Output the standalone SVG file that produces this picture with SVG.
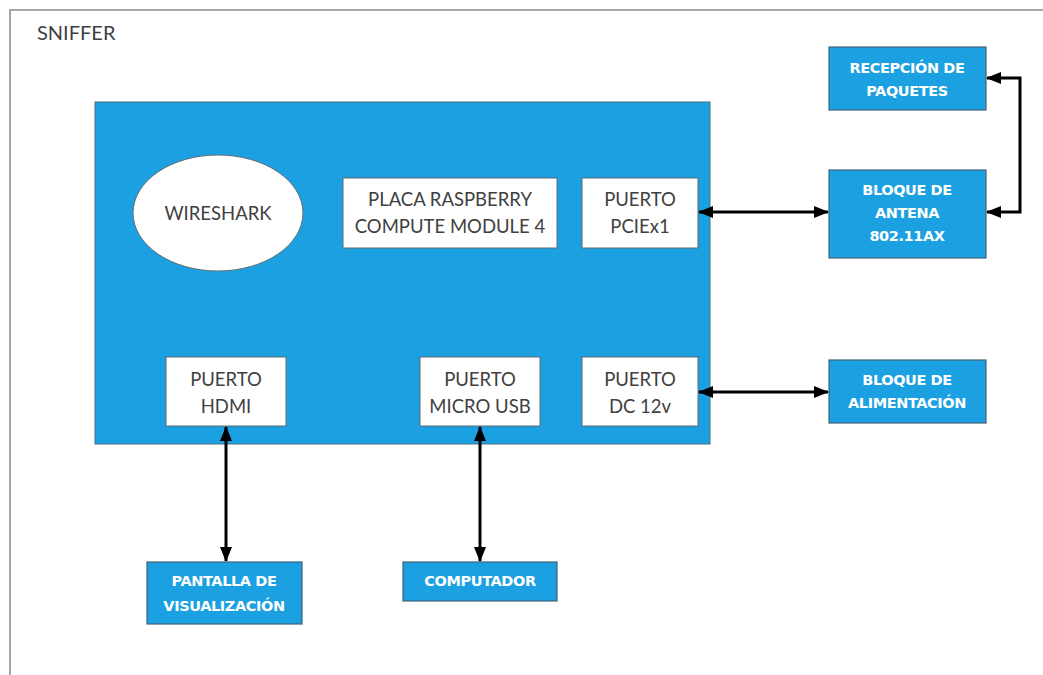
<svg xmlns="http://www.w3.org/2000/svg" width="1043" height="675" viewBox="0 0 1043 675">
  <style>
    .frame { fill: none; stroke: #a6a6a6; stroke-width: 2; }
    .board { fill: #1ba1e2; stroke: #4a6f86; stroke-width: 1; }
    .wbox { fill: #ffffff; stroke: #5f6b73; stroke-width: 1; }
    .bbox { fill: #1ba1e2; stroke: #41627a; stroke-width: 1.2; }
    .wtxt { font-family: Lato, "Open Sans", sans-serif; font-size: 18.5px; fill: #404040; text-anchor: middle; }
    .btxt { font-family: "DejaVu Sans", Verdana, sans-serif; font-weight: bold; font-size: 14.5px; fill: #ffffff; text-anchor: middle; letter-spacing: -0.4px; }
    .title { font-family: Lato, "Open Sans", sans-serif; font-size: 20px; fill: #404040; }
    .link { fill: none; stroke: #000000; stroke-width: 3; }
  </style>
  <defs>
    <!-- filled triangular head used at both ends of every link -->
    <marker id="arrow" viewBox="0 0 15 12" refX="14" refY="6" markerWidth="15" markerHeight="12" markerUnits="userSpaceOnUse" orient="auto-start-reverse">
      <path d="M0,0 L15,6 L0,12 Z" fill="#000000"/>
    </marker>
  </defs>

  <rect width="1043" height="675" fill="#ffffff"/>

  <!-- enclosing frame -->
  <g id="sniffer">
    <path class="frame" d="M10,675 L10,10 L1043,10"/>
    <text class="title" x="37" y="40">SNIFFER</text>
  </g>

  <!-- compute module board -->
  <g id="board">
    <rect class="board" x="95" y="102" width="615" height="342"/>
  </g>

  <g id="wireshark">
    <ellipse cx="218" cy="213" rx="85" ry="58" fill="#ffffff" stroke="#5f6b73" stroke-width="1"/>
    <text class="wtxt" x="218" y="220">WIRESHARK</text>
  </g>

  <g id="placa">
    <rect class="wbox" x="343" y="178" width="214" height="70"/>
    <text class="wtxt" x="450" y="206">PLACA RASPBERRY</text>
    <text class="wtxt" x="450" y="233">COMPUTE MODULE 4</text>
  </g>

  <g id="pcie">
    <rect class="wbox" x="582" y="178" width="116" height="70"/>
    <text class="wtxt" x="640" y="206">PUERTO</text>
    <text class="wtxt" x="640" y="233">PCIEx1</text>
  </g>

  <g id="hdmi">
    <rect class="wbox" x="166" y="357" width="120" height="69"/>
    <text class="wtxt" x="226" y="386">PUERTO</text>
    <text class="wtxt" x="226" y="413">HDMI</text>
  </g>

  <g id="microusb">
    <rect class="wbox" x="420" y="357" width="120" height="69"/>
    <text class="wtxt" x="480" y="386">PUERTO</text>
    <text class="wtxt" x="480" y="413">MICRO USB</text>
  </g>

  <g id="dc">
    <rect class="wbox" x="582" y="357" width="116" height="69"/>
    <text class="wtxt" x="640" y="386">PUERTO</text>
    <text class="wtxt" x="640" y="413">DC 12v</text>
  </g>

  <!-- external blocks -->
  <g id="recepcion">
    <rect class="bbox" x="829" y="47" width="157" height="63"/>
    <text class="btxt" x="907" y="73">RECEPCIÓN DE</text>
    <text class="btxt" x="907" y="96">PAQUETES</text>
  </g>

  <g id="antena">
    <rect class="bbox" x="829" y="170" width="157" height="88"/>
    <text class="btxt" x="907" y="195">BLOQUE DE</text>
    <text class="btxt" x="907" y="218">ANTENA</text>
    <text class="btxt" x="907" y="241">802.11AX</text>
  </g>

  <g id="alimentacion">
    <rect class="bbox" x="829" y="360" width="157" height="63"/>
    <text class="btxt" x="907" y="385">BLOQUE DE</text>
    <text class="btxt" x="907" y="408">ALIMENTACIÓN</text>
  </g>

  <g id="pantalla">
    <rect class="bbox" x="147" y="562" width="155" height="62"/>
    <text class="btxt" x="224" y="586">PANTALLA DE</text>
    <text class="btxt" x="224" y="611">VISUALIZACIÓN</text>
  </g>

  <g id="computador">
    <rect class="bbox" x="403" y="562" width="154" height="39"/>
    <text class="btxt" x="480" y="586">COMPUTADOR</text>
  </g>

  <!-- connectors -->
  <g id="connectors">
    <path class="link" d="M699,212 L828,212" marker-start="url(#arrow)" marker-end="url(#arrow)"/>
    <path class="link" d="M699,392 L828,392" marker-start="url(#arrow)" marker-end="url(#arrow)"/>
    <path class="link" d="M226,427 L226,561" marker-start="url(#arrow)" marker-end="url(#arrow)"/>
    <path class="link" d="M480,427 L480,561" marker-start="url(#arrow)" marker-end="url(#arrow)"/>
    <path class="link" d="M987,78 L1020,78 L1020,212 L987,212" marker-start="url(#arrow)" marker-end="url(#arrow)"/>
  </g>
</svg>
